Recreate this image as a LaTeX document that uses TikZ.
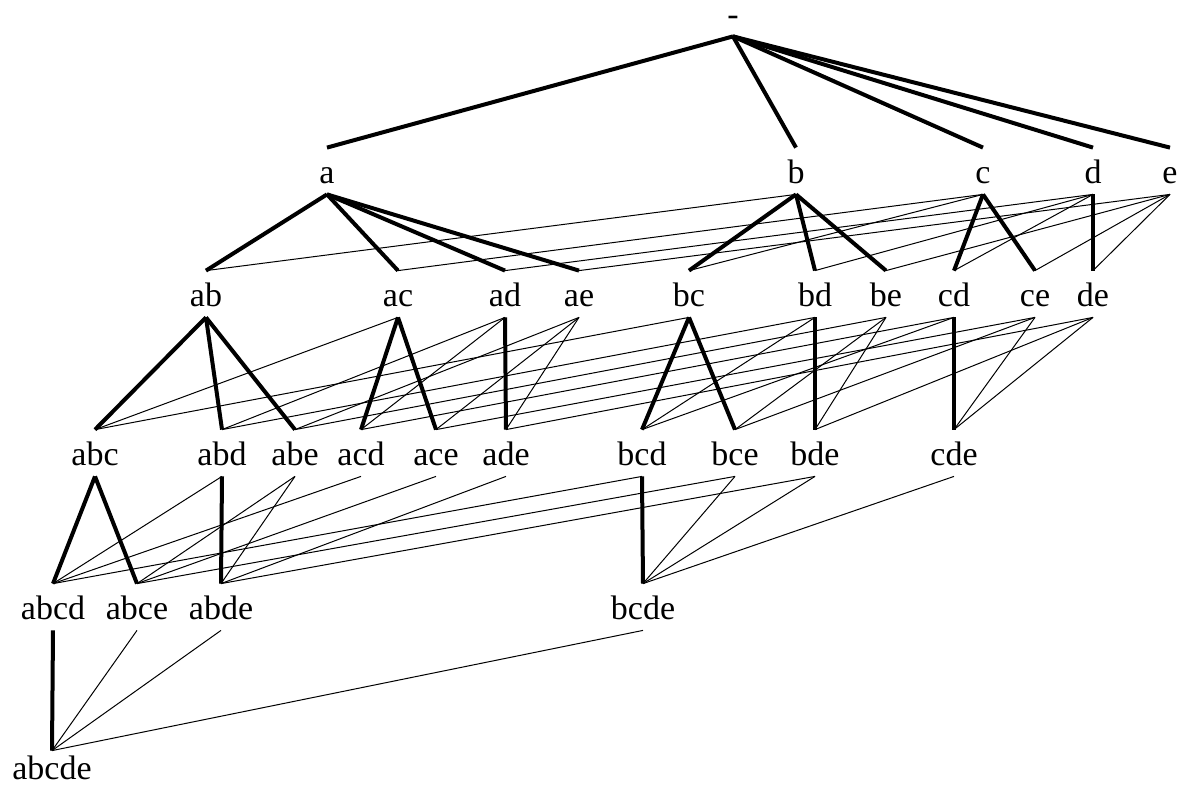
\documentclass[tikz,border=0pt]{standalone}
\usepackage{fontspec}
\setmainfont{Liberation Serif}
\begin{document}
\begin{tikzpicture}[x=0.5pt,y=-0.5pt,
  lbl/.style={anchor=base, font=\fontsize{17pt}{20pt}\selectfont,
    text height=12pt, text depth=0pt, inner xsep=0pt, inner ysep=5.5pt},
  lastlbl/.style={lbl, text height=14pt, inner ysep=0pt},
  treeedge/.style={line width=2pt},
  linkedge/.style={line width=0.5pt}]
\useasboundingbox (0,0) rectangle (1180,788);
% level 0
\node[lbl] (root) at (733,25) {-};
% level 1
\foreach \n/\x in {a/327, b/796, c/983, d/1093, e/1170}
  \node[lbl] (\n) at (\x,183) {\n};
% level 2
\foreach \n/\x in {ab/206, ac/398, ad/505, ae/579, bc/689, bd/815, be/886, cd/954, ce/1035, de/1093}
  \node[lbl] (\n) at (\x,306) {\n};
% level 3
\foreach \n/\x in {abc/95, abd/222, abe/295, acd/361, ace/436, ade/506, bcd/642, bce/735, bde/815, cde/954}
  \node[lbl] (\n) at (\x,465) {\n};
% level 4
\foreach \n/\x in {abcd/53, abce/137, abde/221, bcde/643}
  \node[lbl] (\n) at (\x,619) {\n};
% level 5
\node[lastlbl] (abcde) at (52,779) {abcde};
% thin links
\foreach \p/\c in {b/ab, c/ac, c/bc, d/ad, d/bd, d/cd, e/ae, e/be, e/ce, e/de,
  ac/abc, bc/abc, ad/abd, bd/abd, ae/abe, be/abe, ad/acd, cd/acd, ae/ace, ce/ace,
  ae/ade, de/ade, bd/bcd, cd/bcd, be/bce, ce/bce, be/bde, de/bde, ce/cde, de/cde,
  abd/abcd, acd/abcd, bcd/abcd, abe/abce, ace/abce, bce/abce, abe/abde, ade/abde, bde/abde,
  bce/bcde, bde/bcde, cde/bcde, abce/abcde, abde/abcde, bcde/abcde}
  \draw[linkedge] (\p.south) -- (\c.north);
% tree edges
\foreach \p/\c in {root/a, root/b, root/c, root/d, root/e,
  a/ab, a/ac, a/ad, a/ae, b/bc, b/bd, b/be, c/cd, c/ce, d/de,
  ab/abc, ab/abd, ab/abe, ac/acd, ac/ace, ad/ade, bc/bcd, bc/bce, bd/bde, cd/cde,
  abc/abcd, abc/abce, abd/abde, bcd/bcde, abcd/abcde}
  \draw[treeedge] (\p.south) -- (\c.north);
\end{tikzpicture}
\end{document}
